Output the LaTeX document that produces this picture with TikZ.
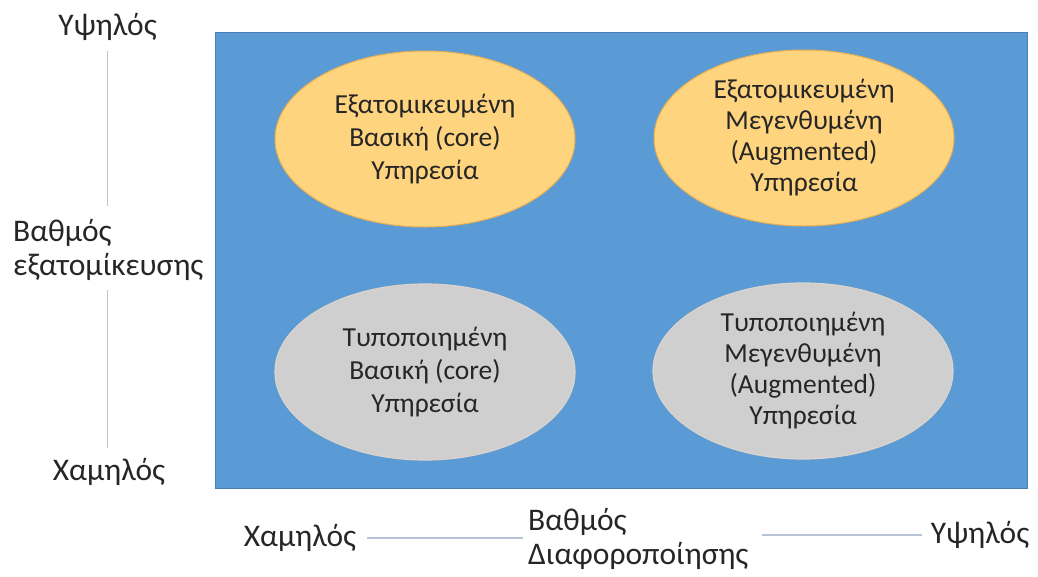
\documentclass[tikz,border=0pt]{standalone}
\usepackage{fontspec}
\setmainfont{Carlito}
\usetikzlibrary{shapes.geometric}
\definecolor{panelblue}{HTML}{5B9BD5}
\definecolor{paneledge}{HTML}{4A80B4}
\definecolor{goldfill}{HTML}{FFD47F}
\definecolor{goldedge}{HTML}{E8AE50}
\definecolor{greyfill}{HTML}{CFCFCF}
\definecolor{greyedge}{HTML}{DCD3CB}
\definecolor{axisgrey}{HTML}{B7C3D6}
\definecolor{inktext}{HTML}{262626}
\tikzset{
  labeltext/.style={font=\fontsize{31.5}{34}\selectfont, text=inktext, inner sep=0pt},
  panelbox/.style={rectangle, draw=paneledge, line width=1pt, fill=panelblue,
    minimum width=812pt, minimum height=456pt, inner sep=0pt},
  oval/.style={ellipse, minimum width=300pt, minimum height=176pt, inner sep=0pt,
    align=center, text=inktext, font=\fontsize{27.5}{33}\selectfont},
  custom/.style={oval, fill=goldfill, draw=goldedge, line width=1pt},
  standard/.style={oval, fill=greyfill, draw=greyedge, line width=1.2pt},
  axisline/.style={draw=axisgrey, line width=1.5pt}
}
\begin{document}
\begin{tikzpicture}[x=1pt, y=-1pt]
\useasboundingbox (0,0) rectangle (1038,576);

% quadrant panel
\node[panelbox] (panel) at (621,260.5) {};

% the four service types
\node[custom]   (cc) at (425,139) {Εξατομικευμένη\\Βασική (core)\\Υπηρεσία};
\node[custom, font=\fontsize{27.5}{31}\selectfont]   (ca) at (804,138) {Εξατομικευμένη\\Μεγενθυμένη\\(Augmented)\\Υπηρεσία};
\node[standard] (sc) at (425,372) {Τυποποιημένη\\Βασική (core)\\Υπηρεσία};
\node[standard, font=\fontsize{27.5}{31}\selectfont] (sa) at (803,371) {Τυποποιημένη\\Μεγενθυμένη\\(Augmented)\\Υπηρεσία};

% vertical axis: degree of customisation
\node[labeltext] (hiY) at (107.5,27) {Υψηλός};
\node[labeltext, align=left, anchor=west] (ylab) at (13,249.5) {Βαθμός\\εξατομίκευσης};
\node[labeltext] (loY) at (109,472) {Χαμηλός};
\draw[axisline, shorten <=10pt, shorten >=13pt] (hiY.south) -- (hiY.south |- ylab.north);
\draw[axisline, shorten <=10pt, shorten >=10pt] (hiY.south |- ylab.south) -- (hiY.south |- loY.north);

% horizontal axis: degree of differentiation
\node[labeltext] (loX) at (300,538) {Χαμηλός};
\node[labeltext, align=left, anchor=west] (xlab) at (528,538.5) {Βαθμός\\Διαφοροποίησης};
\node[labeltext] (hiX) at (980,535) {Υψηλός};
\draw[axisline, shorten <=11pt, shorten >=5pt] (loX.east) -- (loX.east -| xlab.west);
\draw[axisline, shorten <=13pt, shorten >=9pt] (xlab.east |- hiX.west) -- (hiX.west);
\end{tikzpicture}
\end{document}
